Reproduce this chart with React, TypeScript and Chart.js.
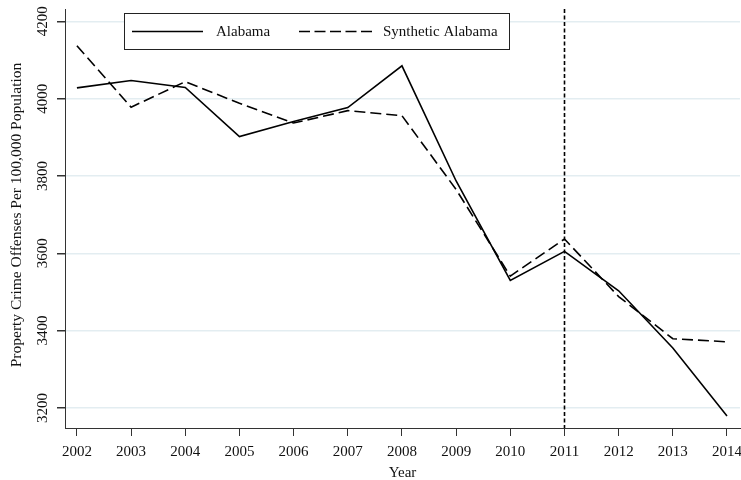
import React, { useEffect, useRef } from "react";
import { Chart, registerables } from "chart.js";

Chart.register(...registerables);

// Property crime per 100,000 population, actual vs. synthetic control
const years = [2002, 2003, 2004, 2005, 2006, 2007, 2008, 2009, 2010, 2011, 2012, 2013, 2014];
const alabama = [4028, 4047, 4029, 3902, 3941, 3977, 4085, 3787, 3530, 3605, 3503, 3355, 3179];
const syntheticAlabama = [4137, 3978, 4044, 3988, 3937, 3969, 3956, 3765, 3541, 3637, 3488, 3379, 3371];
const yTicks = [3200, 3400, 3600, 3800, 4000, 4200];
const treatmentYear = 2011;
const seriesLabels = ["Alabama", "Synthetic Alabama"];
const yTitle = "Property Crime Offenses Per 100,000 Population";

const FONT = "'Liberation Serif', 'Times New Roman', serif";

const overlayPlugin = {
  id: "overlay",
  afterDraw(chart: any) {
    const { ctx, chartArea, scales } = chart;
    const xs = scales.x;
    const ys = scales.y;
    ctx.save();

    // vertical reference line at the treatment year
    const vx = Math.round(xs.getPixelForValue(treatmentYear)) + 0.5;
    ctx.strokeStyle = "#000";
    ctx.lineWidth = 1.6;
    ctx.setLineDash([4, 2.5]);
    ctx.beginPath();
    ctx.moveTo(vx, chartArea.top);
    ctx.lineTo(vx, chartArea.bottom);
    ctx.stroke();
    ctx.setLineDash([]);

    // rotated y tick labels
    ctx.fillStyle = "#111";
    ctx.font = `15px ${FONT}`;
    ctx.textAlign = "center";
    ctx.textBaseline = "middle";
    for (const t of yTicks) {
      const py = ys.getPixelForValue(t);
      ctx.save();
      ctx.translate(43, py);
      ctx.rotate(-Math.PI / 2);
      ctx.fillText(String(t), 0, 0);
      ctx.restore();
    }

    // y axis title
    ctx.save();
    ctx.font = `15.5px ${FONT}`;
    ctx.translate(17, 215);
    ctx.rotate(-Math.PI / 2);
    ctx.fillText(yTitle, 0, 0);
    ctx.restore();

    // legend box
    const bx = 124.5, by = 13.5, bw = 385, bh = 36;
    ctx.fillStyle = "#fff";
    ctx.fillRect(bx, by, bw, bh);
    ctx.strokeStyle = "#222";
    ctx.lineWidth = 1;
    ctx.strokeRect(bx, by, bw, bh);
    const ly = by + bh / 2;
    ctx.strokeStyle = "#000";
    ctx.lineWidth = 1.6;
    ctx.beginPath();
    ctx.moveTo(132, ly);
    ctx.lineTo(203, ly);
    ctx.stroke();
    ctx.setLineDash([11, 4.5]);
    ctx.beginPath();
    ctx.moveTo(299, ly);
    ctx.lineTo(373, ly);
    ctx.stroke();
    ctx.setLineDash([]);
    ctx.fillStyle = "#111";
    ctx.font = `15px ${FONT}`;
    ctx.textAlign = "left";
    ctx.fillText(seriesLabels[0], 216, ly + 0.5);
    ctx.fillText(seriesLabels[1], 383, ly + 0.5);

    ctx.restore();
  },
};

export default function App() {
  const canvasRef = useRef<HTMLCanvasElement | null>(null);

  useEffect(() => {
    if (!canvasRef.current) return;
    const chart = new Chart(canvasRef.current, {
      type: "line",
      data: {
        datasets: [
          {
            label: seriesLabels[0],
            data: years.map((y, i) => ({ x: y, y: alabama[i] })),
            borderColor: "#000",
            borderWidth: 1.6,
            pointRadius: 0,
            fill: false,
            tension: 0,
          },
          {
            label: seriesLabels[1],
            data: years.map((y, i) => ({ x: y, y: syntheticAlabama[i] })),
            borderColor: "#000",
            borderWidth: 1.6,
            borderDash: [11, 5],
            pointRadius: 0,
            fill: false,
            tension: 0,
          },
        ],
      },
      options: {
        animation: false,
        responsive: false,
        maintainAspectRatio: false,
        layout: { padding: { top: 9, right: 1, left: 0, bottom: 0 } },
        plugins: {
          legend: { display: false },
          tooltip: { enabled: false },
        },
        scales: {
          x: {
            type: "linear",
            min: 2001.78,
            max: 2014.24,
            afterBuildTicks: (scale: any) => {
              scale.ticks = years.map((v) => ({ value: v }));
            },
            afterFit: (scale: any) => {
              scale.height = 52;
              scale.paddingLeft = 0;
              scale.paddingRight = 0;
            },
            ticks: {
              color: "#111",
              font: { family: FONT, size: 15 },
              padding: 7,
              maxRotation: 0,
              autoSkip: false,
              callback: (v: any) => String(v),
            },
            grid: {
              drawOnChartArea: false,
              drawTicks: true,
              tickLength: 8,
              color: "#333",
              tickColor: "#333",
            },
            border: { display: true, color: "#333", width: 1 },
            title: {
              display: true,
              text: "Year",
              color: "#111",
              font: { family: FONT, size: 15, lineHeight: 1 },
              padding: { top: 0, bottom: -1 },
            },
          },
          y: {
            type: "linear",
            min: 3148,
            max: 4232,
            afterBuildTicks: (scale: any) => {
              scale.ticks = yTicks.map((v) => ({ value: v }));
            },
            afterFit: (scale: any) => {
              scale.width = 65;
              scale.paddingTop = 0;
              scale.paddingBottom = 0;
            },
            ticks: {
              color: "rgba(0,0,0,0)",
              font: { family: FONT, size: 15 },
            },
            grid: {
              color: "#e3edf1",
              tickColor: "#333",
              tickLength: 8,
              lineWidth: 1.5,
            },
            border: { display: true, color: "#333", width: 1 },
          },
        },
      },
      plugins: [overlayPlugin],
    } as any);
    return () => chart.destroy();
  }, []);

  return (
    <div style={{ position: "absolute", left: 0, top: 0, width: 741, height: 480, background: "#fff" }}>
      <canvas ref={canvasRef} width={741} height={480} style={{ width: 741, height: 480 }} />
    </div>
  );
}
